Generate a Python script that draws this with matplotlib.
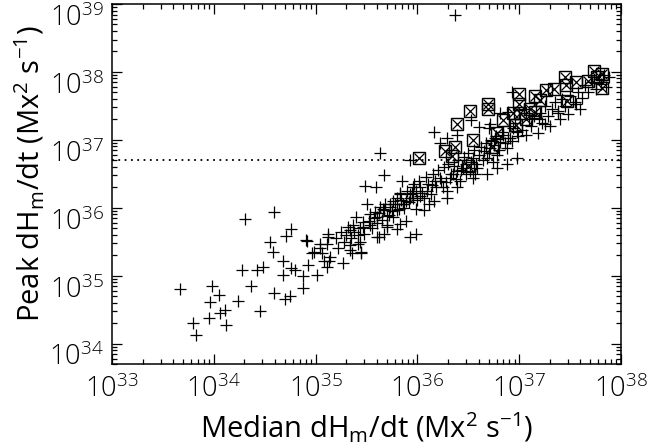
import matplotlib.pyplot as plt
import matplotlib.transforms as mtransforms
import numpy as np

# values, stored as log10 of dH/dt (Mx^2 s^-1)
sparse_median = [33.67, 33.98, 34.05, 33.96, 33.80, 33.83, 33.95, 34.06, 34.11, 34.12,
                 34.24, 34.37, 34.28, 34.31, 34.59, 34.45, 34.42, 34.48, 34.55, 34.58,
                 34.71, 34.76, 34.68, 34.68, 34.76, 34.80, 34.59, 34.70, 34.75, 34.92,
                 34.88, 34.88, 34.93, 34.96, 35.01, 35.04, 35.06, 35.08, 35.12, 35.12,
                 35.14, 35.13, 35.11, 35.27, 35.63, 35.49, 35.59, 35.67, 34.91, 34.98]
sparse_peak = [34.81, 34.85, 34.72, 34.61, 34.31, 34.13, 34.38, 34.45, 34.49, 34.27,
               34.62, 34.85, 35.09, 35.84, 35.94, 34.48, 35.09, 35.12, 35.50, 35.35,
               35.59, 35.68, 35.21, 35.01, 35.11, 35.09, 34.74, 34.66, 34.70, 35.51,
               34.99, 34.82, 35.16, 35.34, 35.01, 35.47, 35.33, 35.21, 35.62, 35.57,
               35.28, 35.21, 35.13, 35.19, 36.81, 36.32, 36.31, 36.48, 35.52, 35.35]

band_median = [35.11, 35.04, 35.32, 35.37, 35.34, 35.40, 35.47, 35.50, 35.53, 35.58,
               35.63, 35.68, 35.70, 35.73, 35.76, 35.80, 35.83, 35.86, 35.89, 35.93,
               35.96, 35.99, 36.03, 36.06, 36.11, 36.09, 36.14, 36.17, 36.22, 36.25,
               36.29, 36.32, 36.35, 36.39, 36.42, 36.45, 36.48, 36.52, 36.55, 36.58,
               36.61, 36.65, 36.68, 36.71, 36.75, 36.78, 36.81, 36.84, 36.88, 36.91,
               36.94, 36.98, 35.34, 35.36, 35.44, 35.45, 35.47, 35.53, 35.62, 35.60,
               35.67, 35.70, 35.73, 35.76, 35.80, 35.83, 35.85, 35.86, 35.89, 35.93,
               35.96, 35.99, 36.06, 36.03]
band_peak = [35.47, 35.40, 35.72, 35.74, 35.67, 35.86, 35.79, 36.05, 35.91, 35.93,
             36.01, 36.05, 35.88, 36.01, 36.10, 36.15, 36.20, 36.05, 36.10, 36.20,
             36.15, 36.25, 36.30, 36.15, 36.05, 36.25, 36.34, 36.39, 36.44, 36.30,
             36.25, 36.44, 36.49, 36.54, 36.39, 36.59, 36.64, 36.54, 36.73, 36.64,
             36.78, 36.83, 36.73, 36.88, 36.93, 36.78, 36.97, 37.07, 36.88, 37.02,
             37.17, 37.12, 35.45, 35.33, 35.50, 35.33, 35.72, 35.74, 35.57, 35.86,
             35.96, 35.74, 36.05, 35.86, 35.96, 36.22, 36.39, 36.05, 35.81, 36.15,
             36.30, 35.98, 35.96, 36.18]

edge_median = [35.34, 35.42, 35.45, 35.60, 35.67, 35.70, 35.83, 35.80, 35.93, 35.99,
               36.16, 36.29, 36.39, 36.55, 36.68, 36.78, 36.88, 36.98, 36.16, 36.22,
               36.29, 36.39, 36.61, 36.71, 36.81, 36.89, 36.53, 35.93, 36.93, 37.07,
               36.57, 36.76, 37.38, 37.56, 37.25, 37.19, 36.89, 36.70]
edge_peak = [35.38, 35.47, 35.35, 35.57, 35.62, 35.72, 35.76, 35.69, 35.57, 35.62,
             36.10, 36.15, 36.30, 36.44, 36.49, 36.59, 36.64, 36.73, 37.12, 36.95,
             37.02, 37.07, 37.19, 37.24, 37.39, 37.41, 37.29, 36.71, 37.70, 37.07,
             36.49, 37.02, 37.42, 37.53, 37.24, 37.31, 37.02, 37.17]

fill_median = [35.20, 35.22, 35.25, 35.28, 35.30, 35.35, 35.38, 35.42, 35.44, 35.48,
               35.52, 35.55, 35.57, 35.60, 35.62, 35.65, 35.66, 35.72, 35.75, 35.78,
               35.82, 35.84, 35.87, 35.90, 35.92, 35.95, 35.97, 36.00, 36.02, 36.05,
               36.08, 36.10, 36.13, 36.15, 36.18, 36.20, 36.23, 36.26, 36.28, 36.30,
               36.33, 36.36, 36.38, 36.40, 36.43, 36.46, 36.48, 36.50, 36.53, 36.56,
               36.59, 36.62, 36.64, 36.67, 36.70, 36.72, 36.74, 36.77, 36.80, 36.83,
               36.86, 36.90, 36.93, 36.96, 36.99, 37.03]
fill_peak = [35.55, 35.40, 35.65, 35.50, 35.60, 35.55, 35.65, 35.60, 35.70, 35.62,
             35.80, 35.70, 35.85, 35.78, 35.92, 35.82, 35.98, 35.90, 35.95, 36.05,
             35.98, 36.12, 36.00, 36.25, 36.08, 36.22, 36.35, 36.12, 36.40, 36.22,
             36.45, 36.35, 36.20, 36.50, 36.30, 36.55, 36.40, 36.60, 36.38, 36.65,
             36.50, 36.62, 36.42, 36.70, 36.55, 36.75, 36.50, 36.80, 36.68, 36.85,
             36.58, 36.90, 36.70, 36.95, 36.80, 37.00, 36.68, 37.05, 36.85, 37.12,
             36.95, 37.20, 36.98, 37.25, 37.05, 37.15]

top_median = [37.05, 37.10, 37.12, 37.15, 37.18, 37.20, 37.22, 37.25, 37.28, 37.30,
              37.32, 37.35, 37.38, 37.40, 37.42, 37.45, 37.48, 37.50, 37.55, 37.58,
              37.60, 37.62, 37.65, 37.68, 37.72, 37.75, 37.78, 37.80, 37.83, 37.85,
              37.88, 36.37]
top_peak = [37.45, 37.30, 37.20, 37.35, 37.10, 37.40, 37.25, 37.50, 37.35, 37.20,
            37.45, 37.55, 37.40, 37.30, 37.60, 37.50, 37.38, 37.65, 37.55, 37.70,
            37.45, 37.62, 37.80, 37.70, 37.85, 37.75, 37.90, 37.82, 37.95, 37.78,
            37.92, 38.84]

# events drawn with a boxed cross
boxed_median = [36.02, 36.27, 36.34, 36.37, 36.39, 36.50, 36.52, 36.55, 36.69, 36.69,
                36.73, 36.78, 36.84, 36.94, 36.97, 37.00, 37.00, 37.01, 37.07, 37.11,
                37.16, 37.16, 37.20, 37.26, 37.34, 37.45, 37.46, 37.47, 37.56, 37.68,
                37.73, 37.76, 37.81, 37.81]
boxed_peak = [36.73, 36.84, 36.76, 36.90, 37.24, 36.62, 37.43, 37.00, 37.53, 37.46,
              36.90, 37.10, 37.29, 37.39, 37.22, 37.68, 37.53, 37.39, 37.31, 37.46,
              37.64, 37.41, 37.58, 37.73, 37.75, 37.92, 37.81, 37.57, 37.85, 37.87,
              38.02, 37.92, 37.97, 37.77]

threshold = 5e36

plt.rcParams['font.family'] = ['Open Sans', 'DejaVu Sans']
plt.rcParams['font.weight'] = 'light'
plt.rcParams['mathtext.fontset'] = 'custom'
plt.rcParams['mathtext.rm'] = 'Open Sans:light'

fig = plt.figure(figsize=(6.48, 4.45), dpi=100)
ax = fig.add_axes([112 / 648, 1 - 364 / 445, 509 / 648, 360 / 445])

x_plus = 10.0 ** np.concatenate([sparse_median, band_median, edge_median, fill_median, top_median])
y_plus = 10.0 ** np.concatenate([sparse_peak, band_peak, edge_peak, fill_peak, top_peak])
ax.plot(x_plus, y_plus, ls='none', marker='+', ms=8.5, mew=0.9, color='black')

xb = 10.0 ** np.array(boxed_median)
yb = 10.0 ** np.array(boxed_peak)
ax.plot(xb, yb, ls='none', marker='s', ms=9, mew=1.0, mfc='none', mec='black')
ax.plot(xb, yb, ls='none', marker='x', ms=7.5, mew=0.9, color='black')

ax.axhline(threshold, color='black', lw=1.3, ls=(0, (1, 2.5)))

ax.set_xscale('log')
ax.set_yscale('log')
ax.set_xlim(1e33, 1e38)
ax.set_ylim(5e33, 1e39)

ax.tick_params(which='both', direction='in', top=True, right=True, width=0.9, labelsize=19.5)
ax.tick_params(which='major', length=7.5)
ax.tick_params(which='minor', length=3.8)
ax.tick_params(axis='x', which='major', pad=8)
ax.tick_params(axis='y', which='major', pad=6)
for s in ax.spines.values():
    s.set_linewidth(1.1)

# IDL puts the y labels a little below their ticks
shift = mtransforms.ScaledTranslation(0, -8 / 72, fig.dpi_scale_trans)
for lab in ax.get_yticklabels():
    lab.set_transform(lab.get_transform() + shift)

ax.set_xlabel(r'Median dH$_\mathregular{m}$/dt (Mx$^\mathregular{2}$ s$^\mathregular{-1}$)', fontsize=21)
ax.set_ylabel(r'Peak dH$_\mathregular{m}$/dt (Mx$^\mathregular{2}$ s$^\mathregular{-1}$)', fontsize=21)
ax.xaxis.set_label_coords(0.5, (364 - 428) / 360)
ax.xaxis.label.set_verticalalignment('center')
ax.yaxis.set_label_coords((30 - 112) / 509, 0.53)
ax.yaxis.label.set_verticalalignment('center')

fig.savefig('out.png', dpi=100)
